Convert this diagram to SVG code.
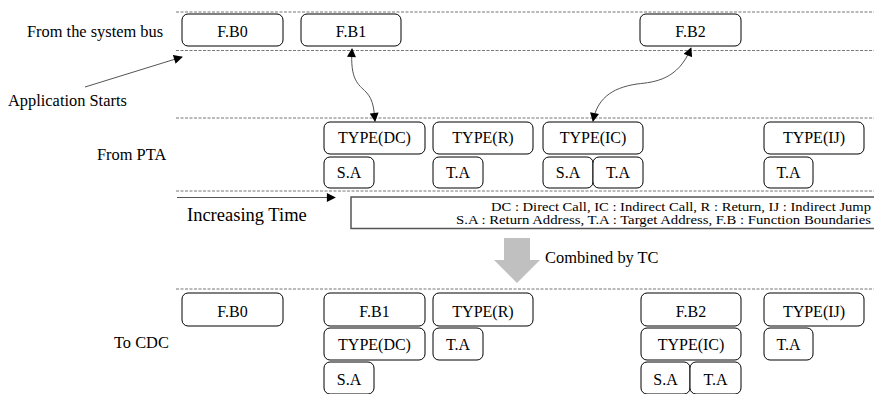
<svg xmlns="http://www.w3.org/2000/svg" width="874" height="394" viewBox="0 0 874 394">
  <defs>
    <style>
      text { font-family: 'Liberation Serif', 'Times New Roman', serif; fill: #000; }
      .lbl { font-size: 16.4px; }
      .bx rect { fill: #fff; stroke: #000; stroke-width: 1; }
      .bx text { font-size: 16px; text-anchor: middle; }
      .lane { stroke: #777; stroke-width: 1; stroke-dasharray: 3 1.5; fill: none; }
      .wire { stroke: #555; stroke-width: 1; fill: none; }
      .legend { font-size: 13px; text-anchor: end; }
    </style>
    <marker id="head" viewBox="0 0 10 10" refX="9" refY="5" markerWidth="10" markerHeight="9" markerUnits="userSpaceOnUse" orient="auto-start-reverse">
      <path d="M0,0 L10,5 L0,10 z" fill="#000"/>
    </marker>
  </defs>

  <!-- lane separators -->
  <g id="lanes">
    <line class="lane" x1="176" y1="12" x2="874" y2="12"/>
    <line class="lane" x1="176" y1="50.5" x2="874" y2="50.5"/>
    <line class="lane" x1="176" y1="118" x2="874" y2="118"/>
    <line class="lane" x1="176" y1="191" x2="874" y2="191"/>
    <line class="lane" x1="176" y1="289" x2="874" y2="289"/>
  </g>

  <!-- row labels -->
  <g id="labels">
    <text class="lbl" x="27" y="37">From the system bus</text>
    <text class="lbl" x="8" y="106">Application Starts</text>
    <text class="lbl" x="97" y="160">From PTA</text>
    <text x="187" y="221" font-size="18.5">Increasing Time</text>
    <text class="lbl" x="545" y="263">Combined by TC</text>
    <text class="lbl" x="114" y="348">To CDC</text>
  </g>

  <!-- legend -->
  <g id="legend">
    <path d="M874,197 H351 V228.5 H874" fill="none" stroke="#555" stroke-width="1.5"/>
    <text class="legend" x="871" y="210.5" textLength="380" lengthAdjust="spacingAndGlyphs">DC : Direct Call, IC : Indirect Call, R : Return, IJ : Indirect Jump</text>
    <text class="legend" x="871" y="224" textLength="415" lengthAdjust="spacingAndGlyphs">S.A : Return Address, T.A : Target Address, F.B : Function Boundaries</text>
  </g>

  <!-- system bus row -->
  <g id="bus-fb0" class="bx"><rect x="182" y="14" width="101" height="32" rx="6"/><text x="232.5" y="37">F.B0</text></g>
  <g id="bus-fb1" class="bx"><rect x="301" y="14" width="100" height="32" rx="6"/><text x="351" y="37">F.B1</text></g>
  <g id="bus-fb2" class="bx"><rect x="640" y="14" width="101" height="32" rx="6"/><text x="690.5" y="37">F.B2</text></g>

  <!-- PTA row -->
  <g id="pta-dc" class="bx"><rect x="324" y="122" width="101" height="32" rx="6"/><text x="374.5" y="143">TYPE(DC)</text></g>
  <g id="pta-dc-sa" class="bx"><rect x="324" y="157" width="50" height="31" rx="6"/><text x="349" y="177.5">S.A</text></g>
  <g id="pta-r" class="bx"><rect x="433" y="122" width="100" height="32" rx="6"/><text x="483" y="143">TYPE(R)</text></g>
  <g id="pta-r-ta" class="bx"><rect x="433" y="157" width="50" height="31" rx="6"/><text x="458" y="177.5">T.A</text></g>
  <g id="pta-ic" class="bx"><rect x="543" y="122" width="100" height="32" rx="6"/><text x="593" y="143">TYPE(IC)</text></g>
  <g id="pta-ic-sa" class="bx"><rect x="543" y="157" width="50" height="31" rx="6"/><text x="568" y="177.5">S.A</text></g>
  <g id="pta-ic-ta" class="bx"><rect x="593" y="157" width="50" height="31" rx="6"/><text x="618" y="177.5">T.A</text></g>
  <g id="pta-ij" class="bx"><rect x="764" y="122" width="100" height="32" rx="6"/><text x="814" y="143">TYPE(IJ)</text></g>
  <g id="pta-ij-ta" class="bx"><rect x="764" y="157" width="49" height="31" rx="6"/><text x="788.5" y="177.5">T.A</text></g>

  <!-- CDC row -->
  <g id="cdc-fb0" class="bx"><rect x="182" y="293" width="101" height="33" rx="6"/><text x="232.5" y="317">F.B0</text></g>
  <g id="cdc-fb1" class="bx"><rect x="324" y="293" width="101" height="33" rx="6"/><text x="374.5" y="317">F.B1</text></g>
  <g id="cdc-dc" class="bx"><rect x="324" y="328" width="101" height="32" rx="6"/><text x="374.5" y="350">TYPE(DC)</text></g>
  <g id="cdc-dc-sa" class="bx"><rect x="324" y="362" width="50" height="32" rx="6"/><text x="349" y="385">S.A</text></g>
  <g id="cdc-r" class="bx"><rect x="433" y="293" width="100" height="33" rx="6"/><text x="483" y="317">TYPE(R)</text></g>
  <g id="cdc-r-ta" class="bx"><rect x="433" y="328" width="50" height="32" rx="6"/><text x="458" y="350">T.A</text></g>
  <g id="cdc-fb2" class="bx"><rect x="641" y="293" width="100" height="33" rx="6"/><text x="691" y="317">F.B2</text></g>
  <g id="cdc-ic" class="bx"><rect x="641" y="328" width="100" height="32" rx="6"/><text x="691" y="350">TYPE(IC)</text></g>
  <g id="cdc-ic-sa" class="bx"><rect x="641" y="362" width="49" height="32" rx="6"/><text x="665.5" y="385">S.A</text></g>
  <g id="cdc-ic-ta" class="bx"><rect x="690" y="362" width="51" height="32" rx="6"/><text x="715.5" y="385">T.A</text></g>
  <g id="cdc-ij" class="bx"><rect x="764" y="293" width="100" height="33" rx="6"/><text x="814" y="317">TYPE(IJ)</text></g>
  <g id="cdc-ij-ta" class="bx"><rect x="764" y="328" width="49" height="32" rx="6"/><text x="788.5" y="350">T.A</text></g>

  <!-- connectors -->
  <g id="connectors">
    <line class="wire" x1="85" y1="87" x2="182" y2="57" marker-end="url(#head)"/>
    <path class="wire" d="M352,49 C350,80 358,84 366,92 C374,100 374,112 375,121" marker-start="url(#head)" marker-end="url(#head)"/>
    <path class="wire" d="M691,48 C678,80 655,82 637,84 C610,88 597,100 593,121" marker-start="url(#head)" marker-end="url(#head)"/>
    <line class="wire" x1="177" y1="197.5" x2="335" y2="197.5" marker-end="url(#head)"/>
    <polygon points="504,238 530,238 530,260 540,260 517,283 494,260 504,260" fill="#c0c0c0"/>
  </g>
</svg>
